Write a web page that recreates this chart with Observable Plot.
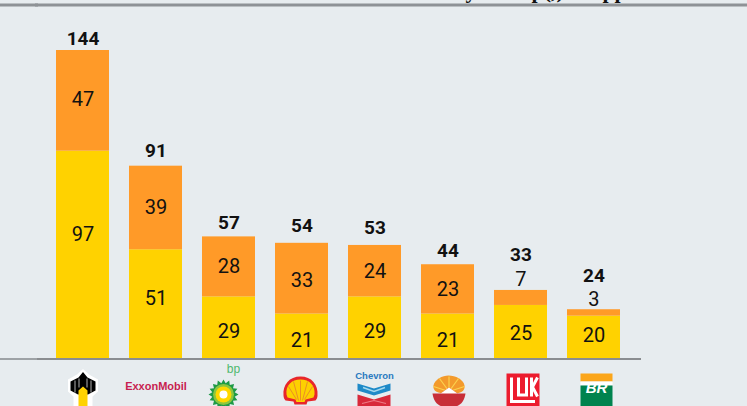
<!DOCTYPE html>
<html>
<head>
<meta charset="utf-8">
<script src="https://cdn.jsdelivr.net/npm/d3@7"></script>
<script src="https://cdn.jsdelivr.net/npm/@observablehq/plot@0.6"></script>
<style>
html,body{margin:0;padding:0;background:#e7ecef;overflow:hidden}
svg{display:block}
</style>
</head>
<body>
<div id="chart"></div>
<script>
const companies = ["Rosneft","ExxonMobil","BP","Shell","Chevron","CNPC","Lukoil","Petrobras"];
const lowerValues = [97,51,29,21,29,21,25,20];
const upperValues = [47,39,28,33,24,23,7,3];
const totals = [144,91,57,54,53,44,33,24];

const rows = companies.flatMap((c,i)=>[
  {company:c, part:"lower", value:lowerValues[i]},
  {company:c, part:"upper", value:upperValues[i]}
]);
const idx = companies.map((_,i)=>i);
const font = "Roboto, sans-serif";

// small nudges (in value units) that follow where the labels sit in the source
const lowerNudge = [9.6,2.6,-1.9,-1.9,-1.9,-1.9,-0.6,1];
const upperNudge = [0.5,0,0,-1,0,0,0,0];
const totalLift = [5.6,7,6.5,8,8,6.5,16.5,16];
const smallLift = [0,0,0,0,0,0,5.2,4.7];
const topLevel = 165.2;

const uri = s => "data:image/svg+xml;utf8," + encodeURIComponent(
  `<svg xmlns="http://www.w3.org/2000/svg" width="70" height="40" viewBox="0 0 70 40">${s}</svg>`);

const burst = (cx,cy,r,n,fill) => { let p=""; for(let k=0;k<n*2;k++){const a=Math.PI*k/n, R=k%2?r*0.76:r; p+=(k?"L":"M")+(cx+R*Math.cos(a)).toFixed(1)+" "+(cy+R*Math.sin(a)).toFixed(1);} return `<path d="${p}Z" fill="${fill}"/>`; };

const logos = {
  Rosneft: `<path d="M35 2.500L41 8L50 13V25L44.500 30V40H25.500V30L20 25V13L29 8Z" fill="#fff"/>
    <path d="M35 5.500L39.500 11L47.500 15V24L40 28H30L22.500 24V15L30.500 11Z" fill="#000"/>
    <path d="M27 14V26M43 14V26M31 12V21M39 12V21" stroke="#fff" stroke-width=".7"/>
    <path d="M35 20L39.500 24V40H30.500V24Z" fill="#ffd200"/>`,
  ExxonMobil: "",
  BP: burst(29.5,28,15,16,"#1d9a46")+`<circle cx="29.500" cy="28" r="10.500" fill="#8cc63f"/><circle cx="29.500" cy="28" r="8" fill="#ffd800"/><circle cx="29.500" cy="28" r="4" fill="#fff"/>`,
  Shell: `<g transform="translate(-1.500 0)"><path d="M35 10C24 10 17 18 18 29C18 31 19 33 20 34L28 35L29 38H41L42 35L50 34C51 33 52 31 52 29C53 18 46 10 35 10Z" fill="#e8262a"/>
    <path d="M35 13C26 13 20 19 21 28L22 31L30 33L31 35.500H39L40 33L48 31L49 28C50 19 44 13 35 13Z" fill="#fdd000"/>
    <path d="M35 34V14M33 34L28 15M37 34L42 15M31 33L23 20M39 33L47 20" stroke="#e8862a" stroke-width=".9"/></g>`,
  Chevron: `<path d="M17.500 17L34 22L50.500 17V24L34 29L17.500 24Z" fill="#1f8ac8"/>
    <path d="M23 21L34 25L45 21" fill="none" stroke="#a5d9ee" stroke-width="1.500"/>
    <path d="M17.500 28L34 33L50.500 28V40H17.500Z" fill="#d8293a"/>
    <path d="M22 37L34 34L46 37" fill="none" stroke="#ee7a86" stroke-width="1.200"/>`,
  CNPC: `<g transform="translate(1.500 0)"><path d="M31 27C24 27 18 25 19 19C20 13 28 9 34 9C41 9 49 13 50 19C51 25 45 27 40 27Z" fill="#f39a2c"/>
    <path d="M34.500 25L34.500 10M34.500 25L25 12M34.500 25L44 12M34.500 25L19 20M34.500 25L50 20" stroke="#fbd24e" stroke-width="1.200"/>
    <path d="M34.500 21L43 27H51C50 35 45 40 40 40H29C24 40 19 35 18 27H26Z" fill="#c82f38"/>
    <path d="M26 27L34.500 21L43 27" fill="#fff"/></g>`,
  Lukoil: `<rect x="20.500" y="7" width="33" height="33" fill="#ec1c2e"/>
    <path d="M25.500 11V35H49M32.500 11V28.500H40.500V11M45.500 11V30M51.500 11L46.500 20.500L51.500 30" fill="none" stroke="#fff" stroke-width="3"/>`,
  Petrobras: `<rect x="21.500" y="7" width="32" height="8" fill="#fba61b"/><rect x="21.500" y="15" width="32" height="4" fill="#fff"/>
    <path d="M21.500 19H53.500V40H21.500Z" fill="#00834e"/>`
};

const chart = Plot.plot({
  width: 747,
  height: 406,
  marginLeft: 36,
  marginRight: 107,
  marginTop: 50,
  marginBottom: 47.5,
  style: {background: "transparent", fontFamily: font, overflow: "hidden"},
  x: {type: "band", domain: companies, padding: 0.274, round: false, axis: null},
  y: {domain: [0,144], axis: null},
  color: {domain: ["lower","upper"], range: ["#ffd200","#ff9a28"]},
  marks: [
    Plot.text(["y\u00a0\u00a0\u00a0\u00a0\u00a0\u00a0\u00a0\u00a0\u00a0\u00a0p(,)\u00a0\u00a0\u00a0\u00a0\u00a0\u00a0\u00a0pp"], {
      frameAnchor:"top-left", dx:429, dy:-52.5, lineAnchor:"bottom", textAnchor:"start",
      fontFamily:"Liberation Serif", fontWeight:"bold", fontSize:22, fill:"#111"}),
    Plot.ruleY([topLevel], {stroke:"#8e9296", strokeWidth:3, insetLeft:-1, insetRight:-107}),
    Plot.ruleY([topLevel], {stroke:"#8e9296", strokeWidth:3, insetLeft:-36, insetRight:602}),
    Plot.ruleY([0], {stroke:"#55595c", strokeWidth:1, insetLeft:-36, insetRight:602}),
    Plot.barY(rows, Plot.stackY({x:"company", y:"value", fill:"part", order:null})),
    Plot.ruleY([0], {stroke:"#8a8d90", strokeWidth:2, insetLeft:1, insetRight:-1}),
    Plot.text(idx, {x:i=>companies[i], y:i=>lowerValues[i]/2+lowerNudge[i], text:i=>String(lowerValues[i]),
      fontSize:20, fill:"#111"}),
    Plot.text(idx, {x:i=>companies[i], y:i=>lowerValues[i]+upperValues[i]/2+upperNudge[i]+(smallLift[i]?smallLift[i]+upperValues[i]/2:0),
      text:i=>String(upperValues[i]), fontSize:20, fill:"#111"}),
    Plot.text(idx, {x:i=>companies[i], y:i=>lowerValues[i]+upperValues[i]+totalLift[i], text:i=>String(totals[i]),
      fontSize:19, fontWeight:"bold", fill:"#111"}),
    Plot.image(companies, {x:d=>d, frameAnchor:"bottom", dy:27.5, width:70, height:40, src:d=>uri(logos[d]), preserveAspectRatio:"none"}),
    Plot.text(["ExxonMobil"], {x:()=> "ExxonMobil", frameAnchor:"bottom", dy:30.5, text:d=>d, fontFamily:"Liberation Sans", fontWeight:"bold", fontSize:11, fill:"#c81e50"}),
    Plot.text(["bp"], {x:()=> "BP", frameAnchor:"bottom", dy:14, dx:4.5, text:d=>d, fontFamily:"Liberation Sans", fontSize:12, fill:"#4fb96e"}),
    Plot.text(["Chevron"], {x:()=> "Chevron", frameAnchor:"bottom", dy:19.5, dx:-0.5, text:d=>d, fontFamily:"Liberation Sans", fontWeight:"bold", fontSize:9.5, fill:"#2a7ac0"}),
    Plot.text(["BR"], {x:()=> "Petrobras", frameAnchor:"bottom", dy:33.5, dx:2.5, text:d=>d, fontFamily:"Liberation Sans", fontWeight:"bold", fontStyle:"italic", fontSize:15, fill:"#fff"})
  ]
});
document.getElementById("chart").append(chart);
</script>
</body>
</html>
